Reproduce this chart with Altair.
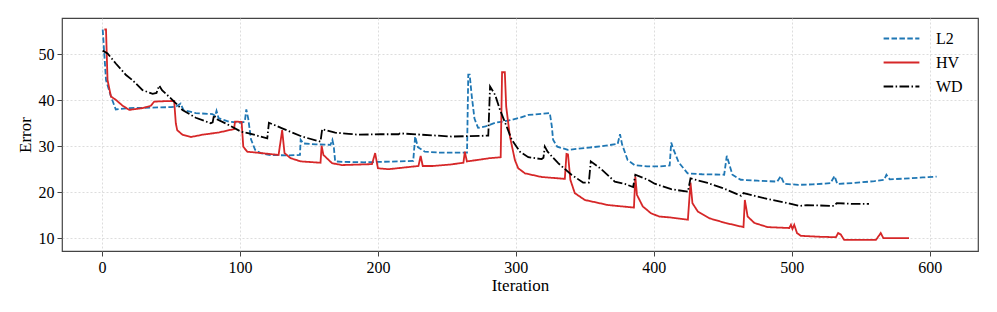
import altair as alt
import pandas as pd

SERIES = ["L2", "HV", "WD"]
COLORS = ["#1f77b4", "#d62728", "#000000"]
DASHES = [[5.5, 2.4], [1, 0], [9.6, 2.4, 1.5, 2.4]]

L2_x = [0.5, 2.9, 6.5, 10, 20, 35, 50, 53.5, 57, 59, 68, 80, 82, 83, 84.5, 92, 100, 103.5, 104.6, 106, 108, 111, 115, 121, 135, 143.5, 144, 146, 155, 165.6, 167, 168, 169, 175, 190, 202, 215, 225.6, 227, 229, 234, 245, 264.6, 265.5, 266.5, 268, 270, 272.6, 278, 285, 295, 303, 309, 324.6, 326, 327, 330, 337.7, 350, 362, 373.8, 375.5, 377, 381, 386, 395, 404, 411.5, 412.6, 414, 418, 424.5, 435, 451, 452.9, 454, 457, 463, 475, 489.5, 492, 494.6, 505, 515, 528, 531, 533, 545, 560, 567, 568.6, 571, 585, 595, 605]
L2_y = [55.4, 44.4, 40.8, 38.0, 38.3, 38.4, 38.5, 38.6, 39.3, 37.9, 37.2, 37.0, 36.6, 37.7, 36.1, 35.35, 35.1, 35.3, 38.0, 36.0, 31.5, 29.2, 28.5, 28.1, 28.0, 28.1, 31.4, 30.6, 30.4, 30.3, 31.4, 30.0, 26.7, 26.6, 26.5, 26.6, 26.7, 26.8, 32.1, 29.8, 28.8, 28.6, 28.6, 45.6, 45.6, 41.0, 36.0, 34.0, 34.3, 35.1, 35.6, 36.2, 36.8, 37.2, 34.5, 31.4, 29.9, 29.2, 29.6, 30.0, 30.5, 32.6, 30.4, 27.0, 25.9, 25.6, 25.6, 25.8, 30.8, 29.5, 26.5, 24.1, 23.9, 23.8, 27.9, 26.8, 23.8, 22.7, 22.5, 22.3, 23.5, 21.8, 21.6, 21.7, 21.95, 23.5, 21.8, 22.0, 22.4, 22.7, 23.8, 22.8, 23.0, 23.2, 23.4]

HV_x = [1.7, 2.9, 4, 6.5, 10, 15, 19.8, 29.4, 35.4, 37.8, 45, 52.3, 53.5, 54.5, 58.3, 64.4, 72.8, 85, 92, 95.7, 96.4, 101.2, 102.4, 105.3, 112.6, 128, 130.6, 132.3, 136.7, 144, 158.4, 159.2, 160.5, 166.8, 174, 185, 195.7, 198, 200, 207.8, 220, 229.4, 231, 232.5, 240, 252, 262, 263, 264.5, 272, 281, 289, 290, 292, 293, 295.7, 299.3, 301.7, 306.6, 318.7, 335.5, 336.7, 337.8, 339.5, 342.7, 350, 366.8, 385.6, 386.6, 387.8, 392, 398, 404, 412, 424.7, 426.6, 428, 431.9, 440.4, 452, 465, 466, 468, 472.9, 482.5, 498.2, 499.4, 500.5, 501.8, 503.8, 506.6, 520, 532, 533.6, 535.5, 538, 550, 561, 564.5, 566.4, 575, 585]
HV_y = [55.4, 55.4, 44.4, 40.8, 40.1, 38.8, 37.9, 38.3, 38.8, 39.7, 39.8, 39.85, 35.0, 33.5, 32.5, 32.0, 32.5, 33.0, 33.5, 33.7, 35.35, 35.3, 29.9, 28.8, 28.6, 28.1, 33.5, 28.5, 27.4, 26.7, 26.4, 30.1, 28.1, 26.3, 25.9, 26.0, 26.1, 28.5, 25.2, 25.0, 25.4, 25.7, 27.9, 25.7, 25.7, 26.0, 26.4, 28.8, 26.7, 27.0, 27.4, 27.6, 46.1, 46.1, 38.6, 32.1, 27.0, 25.2, 24.1, 23.3, 22.9, 28.3, 28.2, 22.7, 19.8, 18.3, 17.2, 16.65, 23.4, 19.4, 16.9, 15.4, 14.7, 14.5, 14.0, 22.1, 17.6, 15.8, 14.3, 13.3, 12.4, 18.3, 14.7, 13.3, 12.4, 12.2, 12.9, 12.0, 12.9, 11.1, 10.5, 10.3, 10.2, 11.1, 10.8, 9.6, 9.6, 9.6, 11.1, 10.0, 10.0, 10.0]

WD_x = [0.5, 4, 10, 17.4, 22, 29.4, 36.7, 39.5, 41.5, 43.5, 51, 58.3, 68, 78.8, 80.2, 81.2, 83, 92, 100.5, 106.5, 119.8, 121, 130.6, 145, 158.4, 159.6, 169, 178.8, 186, 201.7, 215, 216, 253.6, 280, 281.3, 285, 288.5, 293.3, 297, 303, 309, 318.7, 320, 321, 323, 330.7, 340.3, 348.7, 352.9, 354.3, 362, 371.7, 379, 385, 386.6, 395.7, 400.6, 412.6, 424.7, 426.6, 439, 450, 463.3, 465, 480, 497, 505.4, 511, 530.7, 532.6, 545, 556]
WD_y = [50.8, 50.2, 48.0, 45.5, 44.4, 42.2, 41.4, 41.6, 43.2, 42.2, 40.1, 37.9, 36.2, 35.0, 35.2, 36.8, 35.9, 34.6, 33.2, 32.8, 31.7, 35.1, 33.9, 32.1, 31.0, 33.7, 32.95, 32.7, 32.5, 32.6, 32.6, 32.8, 32.1, 32.3, 43.0, 41.15, 37.9, 34.3, 31.4, 28.8, 27.6, 27.2, 27.5, 29.9, 28.8, 26.3, 23.8, 22.1, 22.1, 26.7, 25.0, 22.3, 21.8, 21.1, 23.8, 22.7, 21.85, 20.65, 20.1, 23.0, 22.0, 20.9, 19.2, 19.8, 18.7, 17.6, 17.0, 17.2, 17.0, 17.6, 17.45, 17.45]

X_TICKS = [0, 100, 200, 300, 400, 500, 600]
Y_TICKS = [10, 20, 30, 40, 50]

frames = []
for name, xs, ys in [("L2", L2_x, L2_y), ("HV", HV_x, HV_y), ("WD", WD_x, WD_y)]:
    frames.append(pd.DataFrame({"Iteration": xs, "Error": ys, "series": name, "idx": range(len(xs))}))
df = pd.concat(frames, ignore_index=True)

FONT = "Liberation Serif"

x_enc = alt.X("Iteration:Q",
              scale=alt.Scale(domain=[-29, 635], nice=False, zero=False),
              axis=alt.Axis(values=X_TICKS, title="Iteration"))
y_enc = alt.Y("Error:Q",
              scale=alt.Scale(domain=[7.2, 57.9], nice=False, zero=False),
              axis=alt.Axis(values=Y_TICKS, title="Error"))
color_enc = alt.Color("series:N",
                      scale=alt.Scale(domain=SERIES, range=COLORS),
                      legend=alt.Legend(title=None, orient="none", legendX=827, legendY=8,
                                        symbolType="M-1.6,0L1.6,0", symbolSize=500,
                                        symbolStrokeWidth=1.8, labelFontSize=16,
                                        labelFont=FONT, labelOffset=22, rowPadding=3))
dash_enc = alt.StrokeDash("series:N",
                          scale=alt.Scale(domain=SERIES, range=DASHES),
                          legend=None)

layers = []
for name in SERIES:
    layers.append(
        alt.Chart(df).transform_filter(alt.datum.series == name)
        .mark_line(strokeWidth=1.8, clip=True)
        .encode(x=x_enc, y=y_enc, color=color_enc, strokeDash=dash_enc,
                order="idx:Q")
    )

chart = alt.layer(*layers).properties(
    width=916, height=233,
    autosize=alt.AutoSizeParams(type="none"),
    padding={"left": 54, "top": 10, "right": 8, "bottom": 55},
).configure_view(
    stroke="#444444", strokeWidth=1.2
).configure_axis(
    labelFont=FONT, titleFont=FONT, labelFontSize=16, titleFontSize=17,
    titleFontWeight="normal", labelColor="#000000", titleColor="#000000",
    domain=False, tickColor="#444444", tickSize=5, tickWidth=1,
    grid=True, gridColor="#d4d4d4", gridDash=[2, 2], gridWidth=0.8,
    labelPadding=3,
).configure_axisX(
    titlePadding=2
).configure_axisY(
    titlePadding=4
)

chart.save("out.html", embed_options={"renderer": "svg", "actions": False})
